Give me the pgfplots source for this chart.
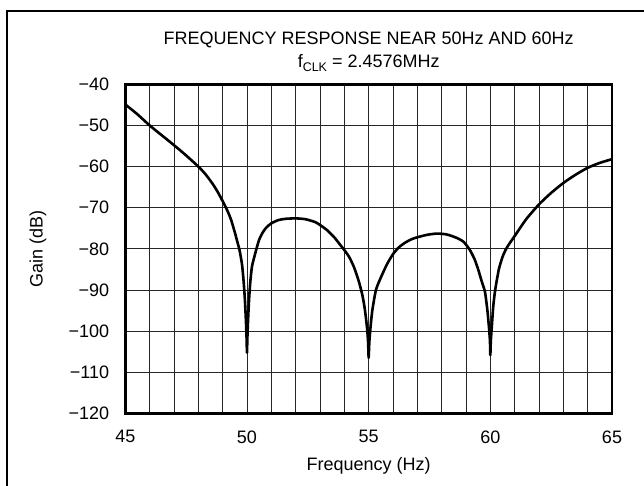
\documentclass[border=0pt]{standalone}
\usepackage{pgfplots}
\pgfplotsset{compat=1.18}
\usepackage{fontspec}
\setmainfont{Liberation Sans}
\begin{document}
\begin{tikzpicture}[font=\fontsize{18}{21.6}\selectfont, x=1pt, y=1pt]
\useasboundingbox (0,0) rectangle (644,485);
\draw[line width=2pt] (7,-10) -- (7,474) -- (660,474);
\begin{axis}[
  at={(125.3pt,71.7pt)}, anchor=south west,
  scale only axis, width=486.7pt, height=329pt,
  xmin=45, xmax=65, ymin=-120, ymax=-40,
  xtick={45,50,55,60,65},
  xticklabels={45,50,55,60,65},
  minor xtick={46,47,48,49,51,52,53,54,56,57,58,59,61,62,63,64},
  ytick={-120,-110,-100,-90,-80,-70,-60,-50,-40},
  yticklabels={−120,−110,−100,−90,−80,−70,−60,−50,−40},
  xmajorgrids, xminorgrids, ymajorgrids,
  major grid style={black!85, line width=0.8pt},
  minor grid style={black!85, line width=0.8pt},
  major tick length=0pt, minor tick length=0pt,
  tick style={draw=none},
  axis line style={line width=2.6pt},
  xticklabel style={anchor=north, inner sep=0pt},
  yticklabel style={anchor=east, inner sep=0pt},
  xticklabel shift=17pt,
  yticklabel shift=16pt,
  xlabel={Frequency (Hz)},
  xlabel style={at={(axis description cs:0.5,0)}, anchor=base, inner sep=0pt, yshift=-57.4pt},
]
\addplot[black, line width=2.6pt, line join=round, smooth, tension=0.4] coordinates {
(45.0,-44.9) (45.5,-47.3) (46.0,-50.0) (46.5,-52.4) (47.0,-54.8) (47.5,-57.3)
(48.0,-60.0) (48.3,-61.9) (48.6,-64.3) (48.8,-66.2) (49.0,-68.4) (49.2,-70.8)
(49.35,-73.0) (49.5,-76.0) (49.6,-78.2) (49.7,-80.5) (49.8,-84.0) (49.87,-88.5)
(49.92,-93) (49.96,-98) (49.985,-102) (49.997,-105) (50.003,-105) (50.015,-102)
(50.04,-98) (50.08,-93) (50.13,-88.5) (50.2,-84.5) (50.3,-82) (50.4,-79.8)
(50.5,-77.8) (50.65,-76.0) (50.8,-74.8) (51.0,-73.8) (51.3,-73.0) (51.6,-72.7)
(52.0,-72.6) (52.4,-72.8) (52.8,-73.5) (53.0,-74.2) (53.3,-75.5) (53.6,-77.3)
(53.8,-78.8) (54.0,-80.3) (54.2,-82) (54.4,-84.5) (54.6,-88) (54.75,-91.5)
(54.85,-95) (54.93,-99) (54.975,-102.5) (54.997,-106.2) (55.003,-106.2) (55.03,-102.5)
(55.07,-99.5) (55.15,-95) (55.3,-90) (55.5,-87) (55.75,-83.8) (56.0,-81.3)
(56.25,-79.6) (56.5,-78.5) (56.75,-77.7) (57.0,-77.2) (57.4,-76.6) (57.8,-76.3) (58.2,-76.5)
(58.6,-77.3) (58.9,-78.3) (59.15,-80.2) (59.35,-82.5) (59.5,-85) (59.65,-88)
(59.78,-90.5) (59.88,-95) (59.95,-99.5) (59.985,-102.5) (59.997,-105.6) (60.003,-105.6)
(60.02,-102.5) (60.06,-99) (60.12,-94) (60.2,-90) (60.35,-85) (60.5,-82)
(60.65,-80) (60.8,-78.6) (61.0,-76.9) (61.25,-74.7) (61.5,-72.6)
(62.0,-69.2) (62.5,-66.4) (63.0,-64.0) (63.5,-62.0) (64.0,-60.3) (64.5,-59.1) (65.0,-58.2)
};
\end{axis}
\node[rotate=90, inner sep=0pt] at (38,236.2) {Gain (dB)};
\node[anchor=base, inner sep=0pt] at (368.7,440.5) {FREQUENCY RESPONSE NEAR 50Hz AND 60Hz};
\node[anchor=base, inner sep=0pt] at (368.7,417) {f\raisebox{-4pt}{\fontsize{12.5}{13}\selectfont CLK} = 2.4576MHz};
\end{tikzpicture}
\end{document}
